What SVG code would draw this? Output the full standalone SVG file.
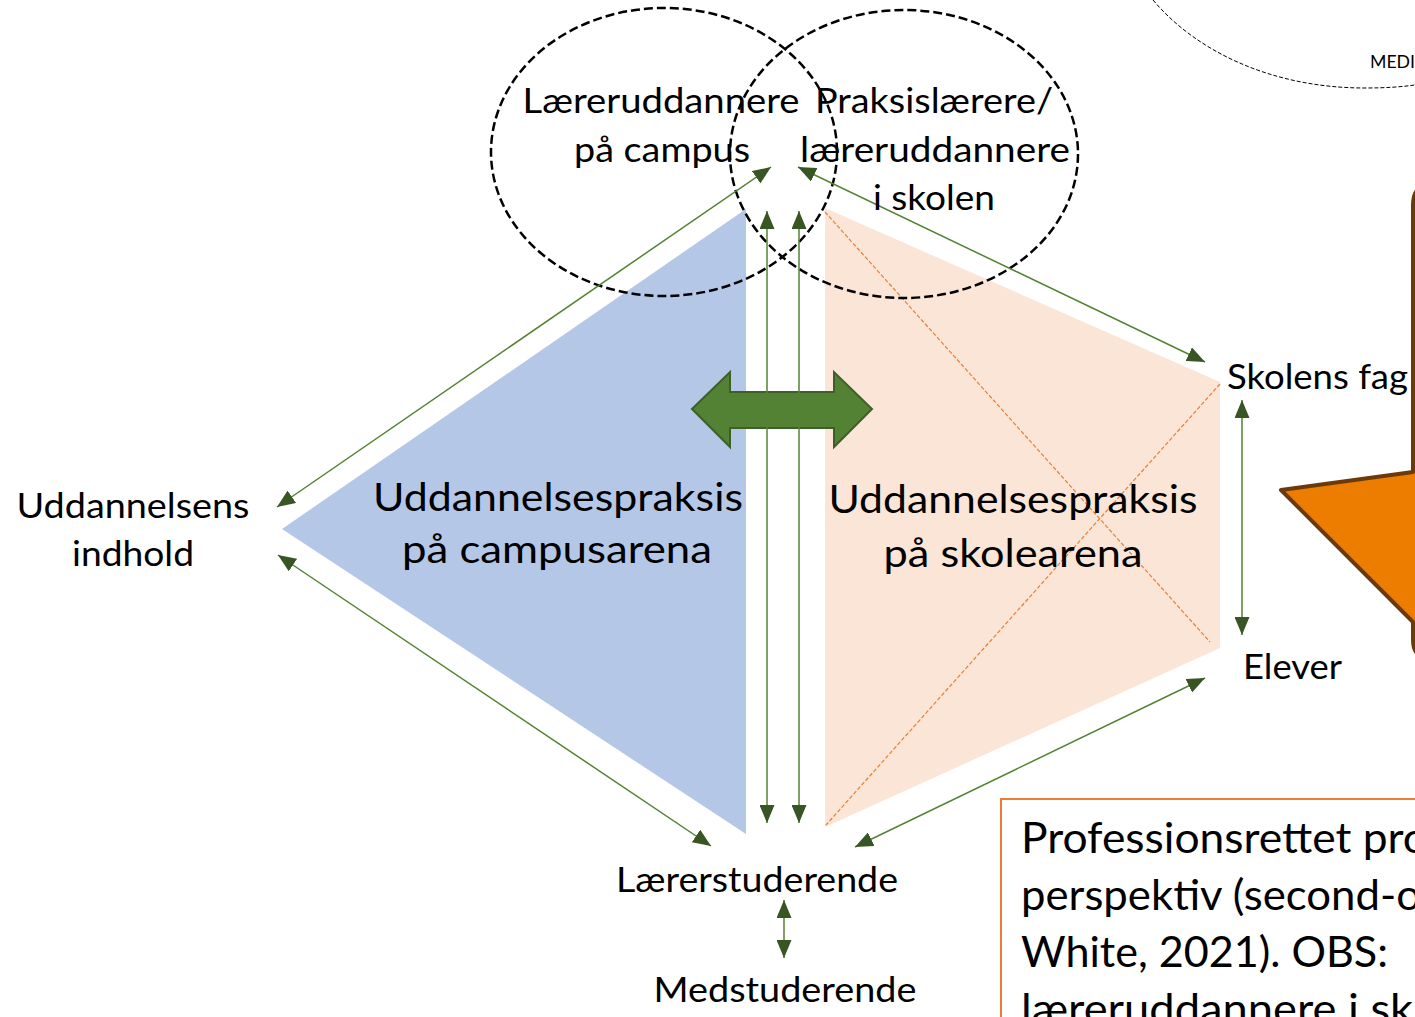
<svg xmlns="http://www.w3.org/2000/svg" width="1415" height="1017" viewBox="0 0 1415 1017">
<style>
.t{font-family:Lato,"Liberation Sans",sans-serif;fill:#000;}
.lbl{font-size:34px;}
.big{font-size:39px;}
.box{font-size:42px;}
.conn{stroke:#548235;stroke-width:1.5;fill:none;marker-start:url(#ah);marker-end:url(#ah);}
.circ{fill:none;stroke:#000;stroke-width:2.5;stroke-dasharray:9 4;}
.xl{stroke:#ed7d31;stroke-width:1.2;stroke-dasharray:4 2;fill:none;}
</style>
<defs>
<marker id="ah" markerUnits="userSpaceOnUse" markerWidth="18" markerHeight="15" refX="18" refY="7.5" orient="auto-start-reverse" viewBox="0 0 18 15">
<path d="M0,0 L18,7.5 L0,15 Z" fill="#375623"/>
</marker>
</defs>
<rect width="1415" height="1017" fill="#fff"/>

<g id="campusarena">
<polygon points="282,529 746,209 746,834" fill="#b4c7e7"/>
<text class="t big" x="558" y="511" text-anchor="middle" textLength="370" lengthAdjust="spacingAndGlyphs">Uddannelsespraksis</text>
<text class="t big" x="557" y="563" text-anchor="middle" textLength="310" lengthAdjust="spacingAndGlyphs">på campusarena</text>
</g>

<g id="skolearena">
<polygon points="825,208 1220,382 1220,648 825,827" fill="#fbe5d6"/>
<line class="xl" x1="825" y1="212" x2="1210" y2="642"/>
<line class="xl" x1="1220" y1="384" x2="826" y2="825"/>
<text class="t big" x="1013" y="513" text-anchor="middle" textLength="369" lengthAdjust="spacingAndGlyphs">Uddannelsespraksis</text>
<text class="t big" x="1013" y="567" text-anchor="middle" textLength="259" lengthAdjust="spacingAndGlyphs">på skolearena</text>
</g>

<g id="medi">
<path d="M1153,0 C1195,50 1270,88 1365,88 C1385,88 1400,87 1415,85" fill="none" stroke="#000" stroke-width="1" stroke-dasharray="4 2"/>
<text class="t" x="1370" y="68" font-size="17" textLength="45" lengthAdjust="spacingAndGlyphs">MEDI</text>
</g>

<g id="callout">
<path d="M1413,472 L1413,205 Q1413,183 1435,183 L1500,183 L1500,660 L1435,660 Q1413,660 1413,640 L1413,622 L1281,490 Z" fill="#ed7d00" stroke="#6b3a0a" stroke-width="4" stroke-linejoin="round"/>
</g>

<g id="laereruddannere-campus">
<ellipse class="circ" cx="664" cy="152" rx="173" ry="144"/>
</g>
<g id="praksislaerere">
<ellipse class="circ" cx="904" cy="154" rx="174" ry="144"/>
</g>

<g id="bigarrow">
<polygon points="692,409 730,372 730,392 834,392 834,372 872,409 834,447 834,428 730,428 730,447" fill="#548235" stroke="#3c6027" stroke-width="2" stroke-linejoin="miter"/>
</g>

<g id="connectors">
<line class="conn" x1="277" y1="507" x2="771" y2="167"/>
<line class="conn" x1="278" y1="555" x2="711" y2="846"/>
<line class="conn" x1="798" y1="167" x2="1205" y2="362"/>
<line class="conn" x1="1205" y1="678" x2="855" y2="847"/>
<line class="conn" x1="767" y1="211" x2="767" y2="823"/>
<line class="conn" x1="799" y1="211" x2="799" y2="823"/>
<line class="conn" x1="1242" y1="400" x2="1242" y2="635"/>
<line class="conn" x1="784" y1="900" x2="784" y2="958"/>
</g>

<g id="label-campus">
<text class="t lbl" x="661" y="113" text-anchor="middle" textLength="277" lengthAdjust="spacingAndGlyphs">Læreruddannere</text>
<text class="t lbl" x="662" y="162" text-anchor="middle" textLength="176" lengthAdjust="spacingAndGlyphs">på campus</text>
</g>
<g id="label-skolen">
<text class="t lbl" x="934" y="113" text-anchor="middle" textLength="238" lengthAdjust="spacingAndGlyphs">Praksislærere/</text>
<text class="t lbl" x="935" y="162" text-anchor="middle" textLength="270" lengthAdjust="spacingAndGlyphs">læreruddannere</text>
<text class="t lbl" x="934" y="210" text-anchor="middle" textLength="122" lengthAdjust="spacingAndGlyphs">i skolen</text>
</g>
<g id="skolens-fag">
<text class="t lbl" x="1227" y="389" textLength="181" lengthAdjust="spacingAndGlyphs">Skolens fag</text>
</g>
<g id="elever">
<text class="t lbl" x="1243" y="679" textLength="99" lengthAdjust="spacingAndGlyphs">Elever</text>
</g>
<g id="uddannelsens-indhold">
<text class="t lbl" x="133" y="518" text-anchor="middle" textLength="233" lengthAdjust="spacingAndGlyphs">Uddannelsens</text>
<text class="t lbl" x="133" y="566" text-anchor="middle" textLength="122" lengthAdjust="spacingAndGlyphs">indhold</text>
</g>
<g id="laererstuderende">
<text class="t lbl" x="757" y="892" text-anchor="middle" textLength="282" lengthAdjust="spacingAndGlyphs">Lærerstuderende</text>
</g>
<g id="medstuderende">
<text class="t lbl" x="785" y="1002" text-anchor="middle" textLength="263" lengthAdjust="spacingAndGlyphs">Medstuderende</text>
</g>

<g id="textbox">
<rect x="1001" y="799" width="440" height="260" fill="#fff" stroke="#ed7d31" stroke-width="2"/>
<text class="t box" x="1021" y="853" textLength="407" lengthAdjust="spacingAndGlyphs">Professionsrettet pro</text>
<text class="t box" x="1021" y="910" textLength="400" lengthAdjust="spacingAndGlyphs">perspektiv (second-o</text>
<text class="t box" x="1021" y="967" textLength="367" lengthAdjust="spacingAndGlyphs">White, 2021). OBS:</text>
<text class="t box" x="1021" y="1024" textLength="392" lengthAdjust="spacingAndGlyphs">læreruddannere i sk</text>
</g>
</svg>
